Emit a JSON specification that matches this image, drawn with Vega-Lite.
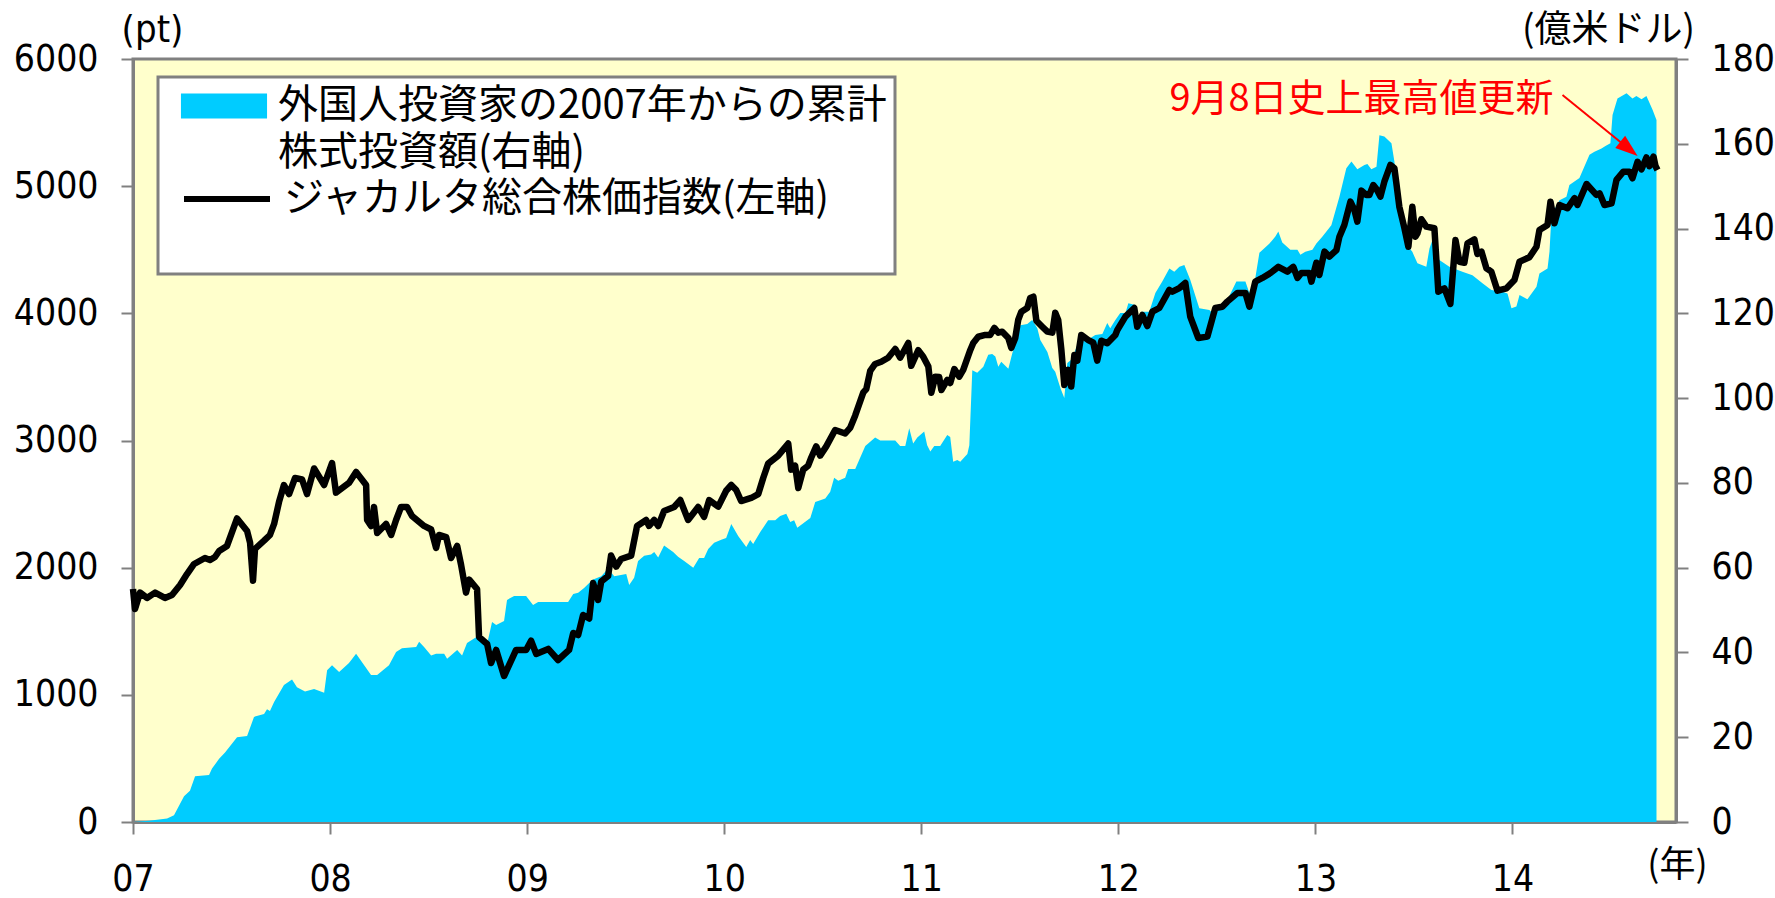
{
  "$schema": "https://vega.github.io/schema/vega-lite/v6.json",
  "width": 1543,
  "height": 763,
  "autosize": {"type": "none"},
  "padding": {"left": 133, "top": 59, "right": 99, "bottom": 76},
  "background": "white",
  "config": {
    "font": "Noto Sans CJK JP",
    "view": {"fill": "#FFFFCC", "stroke": "#808080", "strokeWidth": 3},
    "axis": {
      "labelFont": "DejaVu Sans Condensed, Liberation Sans Narrow, DejaVu Sans",
      "labelFontSize": 37,
      "labelColor": "black",
      "tickColor": "#808080",
      "tickWidth": 2,
      "tickSize": 12,
      "grid": false,
      "domain": true,
      "domainColor": "#808080",
      "domainWidth": 3,
      "labelFlush": false,
      "labelOverlap": false,
      "titleColor": "black",
      "titleFontWeight": "normal",
      "titleAngle": 0,
      "titleAlign": "center",
      "titleBaseline": "middle",
      "zindex": 1
    }
  },
  "datasets": {
    "jci": [
      {"year": 2007.000, "v": 1832}, {"year": 2007.010, "v": 1675}, {"year": 2007.036, "v": 1804}, {"year": 2007.071, "v": 1762},
      {"year": 2007.112, "v": 1804}, {"year": 2007.162, "v": 1762}, {"year": 2007.198, "v": 1785}, {"year": 2007.239, "v": 1864},
      {"year": 2007.274, "v": 1950}, {"year": 2007.310, "v": 2029}, {"year": 2007.365, "v": 2076}, {"year": 2007.391, "v": 2060},
      {"year": 2007.416, "v": 2084}, {"year": 2007.437, "v": 2131}, {"year": 2007.477, "v": 2171}, {"year": 2007.528, "v": 2387},
      {"year": 2007.579, "v": 2288}, {"year": 2007.594, "v": 2197}, {"year": 2007.609, "v": 1898}, {"year": 2007.619, "v": 2147},
      {"year": 2007.665, "v": 2212}, {"year": 2007.695, "v": 2257}, {"year": 2007.716, "v": 2344}, {"year": 2007.741, "v": 2517},
      {"year": 2007.766, "v": 2650}, {"year": 2007.792, "v": 2579}, {"year": 2007.822, "v": 2705}, {"year": 2007.858, "v": 2693},
      {"year": 2007.883, "v": 2579}, {"year": 2007.919, "v": 2780}, {"year": 2007.970, "v": 2650}, {"year": 2008.010, "v": 2823},
      {"year": 2008.030, "v": 2590}, {"year": 2008.096, "v": 2666}, {"year": 2008.132, "v": 2752}, {"year": 2008.183, "v": 2650},
      {"year": 2008.188, "v": 2375}, {"year": 2008.208, "v": 2328}, {"year": 2008.223, "v": 2477}, {"year": 2008.239, "v": 2273},
      {"year": 2008.284, "v": 2344}, {"year": 2008.310, "v": 2257}, {"year": 2008.335, "v": 2375}, {"year": 2008.360, "v": 2477},
      {"year": 2008.391, "v": 2477}, {"year": 2008.416, "v": 2406}, {"year": 2008.477, "v": 2328}, {"year": 2008.513, "v": 2300},
      {"year": 2008.538, "v": 2155}, {"year": 2008.553, "v": 2257}, {"year": 2008.589, "v": 2241}, {"year": 2008.614, "v": 2076},
      {"year": 2008.645, "v": 2171}, {"year": 2008.665, "v": 2021}, {"year": 2008.690, "v": 1804}, {"year": 2008.706, "v": 1906},
      {"year": 2008.746, "v": 1832}, {"year": 2008.756, "v": 1455}, {"year": 2008.797, "v": 1400}, {"year": 2008.817, "v": 1250},
      {"year": 2008.843, "v": 1353}, {"year": 2008.883, "v": 1148}, {"year": 2008.909, "v": 1235}, {"year": 2008.944, "v": 1353},
      {"year": 2008.995, "v": 1353}, {"year": 2009.020, "v": 1426}, {"year": 2009.046, "v": 1322}, {"year": 2009.107, "v": 1361},
      {"year": 2009.157, "v": 1274}, {"year": 2009.213, "v": 1353}, {"year": 2009.234, "v": 1486}, {"year": 2009.259, "v": 1470},
      {"year": 2009.284, "v": 1628}, {"year": 2009.315, "v": 1600}, {"year": 2009.335, "v": 1879}, {"year": 2009.360, "v": 1746},
      {"year": 2009.376, "v": 1891}, {"year": 2009.411, "v": 1935}, {"year": 2009.426, "v": 2095}, {"year": 2009.452, "v": 2008},
      {"year": 2009.477, "v": 2068}, {"year": 2009.528, "v": 2095}, {"year": 2009.558, "v": 2328}, {"year": 2009.604, "v": 2375},
      {"year": 2009.619, "v": 2328}, {"year": 2009.645, "v": 2375}, {"year": 2009.665, "v": 2328}, {"year": 2009.695, "v": 2446},
      {"year": 2009.746, "v": 2477}, {"year": 2009.777, "v": 2532}, {"year": 2009.817, "v": 2375}, {"year": 2009.868, "v": 2477},
      {"year": 2009.898, "v": 2399}, {"year": 2009.924, "v": 2532}, {"year": 2009.970, "v": 2480}, {"year": 2010.010, "v": 2605},
      {"year": 2010.036, "v": 2650}, {"year": 2010.061, "v": 2611}, {"year": 2010.086, "v": 2524}, {"year": 2010.137, "v": 2548},
      {"year": 2010.173, "v": 2579}, {"year": 2010.198, "v": 2705}, {"year": 2010.223, "v": 2818}, {"year": 2010.274, "v": 2881},
      {"year": 2010.325, "v": 2976}, {"year": 2010.340, "v": 2771}, {"year": 2010.360, "v": 2802}, {"year": 2010.376, "v": 2627},
      {"year": 2010.401, "v": 2771}, {"year": 2010.426, "v": 2802}, {"year": 2010.442, "v": 2866}, {"year": 2010.467, "v": 2954},
      {"year": 2010.487, "v": 2881}, {"year": 2010.518, "v": 2954}, {"year": 2010.563, "v": 3083}, {"year": 2010.614, "v": 3055},
      {"year": 2010.640, "v": 3102}, {"year": 2010.665, "v": 3197}, {"year": 2010.706, "v": 3378}, {"year": 2010.721, "v": 3404},
      {"year": 2010.741, "v": 3547}, {"year": 2010.766, "v": 3602}, {"year": 2010.797, "v": 3619}, {"year": 2010.832, "v": 3651},
      {"year": 2010.868, "v": 3720}, {"year": 2010.893, "v": 3651}, {"year": 2010.934, "v": 3767}, {"year": 2010.949, "v": 3587},
      {"year": 2010.985, "v": 3710}, {"year": 2011.010, "v": 3659}, {"year": 2011.036, "v": 3581}, {"year": 2011.051, "v": 3376},
      {"year": 2011.071, "v": 3502}, {"year": 2011.091, "v": 3499}, {"year": 2011.102, "v": 3397}, {"year": 2011.132, "v": 3476},
      {"year": 2011.147, "v": 3452}, {"year": 2011.168, "v": 3562}, {"year": 2011.193, "v": 3502}, {"year": 2011.213, "v": 3555},
      {"year": 2011.249, "v": 3712}, {"year": 2011.264, "v": 3767}, {"year": 2011.289, "v": 3816}, {"year": 2011.325, "v": 3830},
      {"year": 2011.350, "v": 3830}, {"year": 2011.371, "v": 3885}, {"year": 2011.391, "v": 3848}, {"year": 2011.411, "v": 3856},
      {"year": 2011.442, "v": 3806}, {"year": 2011.457, "v": 3728}, {"year": 2011.477, "v": 3806}, {"year": 2011.492, "v": 3948},
      {"year": 2011.508, "v": 4013}, {"year": 2011.538, "v": 4042}, {"year": 2011.553, "v": 4121}, {"year": 2011.569, "v": 4131},
      {"year": 2011.584, "v": 3942}, {"year": 2011.614, "v": 3895}, {"year": 2011.640, "v": 3856}, {"year": 2011.665, "v": 3848},
      {"year": 2011.680, "v": 4005}, {"year": 2011.695, "v": 3948}, {"year": 2011.711, "v": 3712}, {"year": 2011.726, "v": 3437},
      {"year": 2011.746, "v": 3555}, {"year": 2011.761, "v": 3424}, {"year": 2011.777, "v": 3672}, {"year": 2011.792, "v": 3628},
      {"year": 2011.812, "v": 3830}, {"year": 2011.848, "v": 3790}, {"year": 2011.873, "v": 3769}, {"year": 2011.893, "v": 3628},
      {"year": 2011.914, "v": 3785}, {"year": 2011.944, "v": 3765}, {"year": 2011.985, "v": 3830}, {"year": 2011.995, "v": 3869},
      {"year": 2012.036, "v": 3974}, {"year": 2012.081, "v": 4042}, {"year": 2012.096, "v": 3895}, {"year": 2012.122, "v": 3987},
      {"year": 2012.147, "v": 3900}, {"year": 2012.173, "v": 4013}, {"year": 2012.208, "v": 4042}, {"year": 2012.259, "v": 4184},
      {"year": 2012.274, "v": 4170}, {"year": 2012.310, "v": 4199}, {"year": 2012.340, "v": 4239}, {"year": 2012.365, "v": 3974},
      {"year": 2012.406, "v": 3806}, {"year": 2012.452, "v": 3817}, {"year": 2012.492, "v": 4042}, {"year": 2012.528, "v": 4052},
      {"year": 2012.553, "v": 4092}, {"year": 2012.604, "v": 4160}, {"year": 2012.645, "v": 4160}, {"year": 2012.665, "v": 4052},
      {"year": 2012.695, "v": 4249}, {"year": 2012.731, "v": 4278}, {"year": 2012.772, "v": 4317}, {"year": 2012.812, "v": 4365},
      {"year": 2012.858, "v": 4328}, {"year": 2012.888, "v": 4365}, {"year": 2012.909, "v": 4278}, {"year": 2012.929, "v": 4317},
      {"year": 2012.970, "v": 4317}, {"year": 2012.980, "v": 4249}, {"year": 2013.005, "v": 4398}, {"year": 2013.020, "v": 4301},
      {"year": 2013.046, "v": 4485}, {"year": 2013.071, "v": 4446}, {"year": 2013.107, "v": 4498}, {"year": 2013.122, "v": 4603},
      {"year": 2013.147, "v": 4695}, {"year": 2013.178, "v": 4878}, {"year": 2013.198, "v": 4813}, {"year": 2013.213, "v": 4721},
      {"year": 2013.234, "v": 4965}, {"year": 2013.259, "v": 4931}, {"year": 2013.274, "v": 4931}, {"year": 2013.294, "v": 5009},
      {"year": 2013.310, "v": 4978}, {"year": 2013.330, "v": 4918}, {"year": 2013.350, "v": 5035}, {"year": 2013.381, "v": 5167},
      {"year": 2013.401, "v": 5141}, {"year": 2013.411, "v": 5023}, {"year": 2013.426, "v": 4839}, {"year": 2013.452, "v": 4669},
      {"year": 2013.472, "v": 4524}, {"year": 2013.492, "v": 4839}, {"year": 2013.508, "v": 4603}, {"year": 2013.518, "v": 4629},
      {"year": 2013.538, "v": 4740}, {"year": 2013.563, "v": 4682}, {"year": 2013.604, "v": 4669}, {"year": 2013.624, "v": 4170},
      {"year": 2013.655, "v": 4197}, {"year": 2013.685, "v": 4074}, {"year": 2013.711, "v": 4577}, {"year": 2013.731, "v": 4406},
      {"year": 2013.756, "v": 4398}, {"year": 2013.772, "v": 4551}, {"year": 2013.807, "v": 4582}, {"year": 2013.822, "v": 4467},
      {"year": 2013.843, "v": 4485}, {"year": 2013.868, "v": 4354}, {"year": 2013.893, "v": 4328}, {"year": 2013.924, "v": 4178},
      {"year": 2013.970, "v": 4197}, {"year": 2014.010, "v": 4262}, {"year": 2014.036, "v": 4406}, {"year": 2014.086, "v": 4441},
      {"year": 2014.122, "v": 4524}, {"year": 2014.137, "v": 4655}, {"year": 2014.178, "v": 4695}, {"year": 2014.193, "v": 4878},
      {"year": 2014.213, "v": 4708}, {"year": 2014.239, "v": 4852}, {"year": 2014.279, "v": 4826}, {"year": 2014.315, "v": 4905},
      {"year": 2014.330, "v": 4852}, {"year": 2014.376, "v": 5017}, {"year": 2014.426, "v": 4931}, {"year": 2014.442, "v": 4944},
      {"year": 2014.467, "v": 4852}, {"year": 2014.503, "v": 4865}, {"year": 2014.528, "v": 5049}, {"year": 2014.563, "v": 5114},
      {"year": 2014.594, "v": 5114}, {"year": 2014.609, "v": 5062}, {"year": 2014.635, "v": 5192}, {"year": 2014.655, "v": 5132},
      {"year": 2014.680, "v": 5226}, {"year": 2014.695, "v": 5158}, {"year": 2014.716, "v": 5232}, {"year": 2014.726, "v": 5158},
      {"year": 2014.736, "v": 5127}
    ],
    "flow": [
      {"year": 2007.000, "v": 0}, {"year": 2007.081, "v": 0.3}, {"year": 2007.173, "v": 0.8}, {"year": 2007.208, "v": 1.6},
      {"year": 2007.259, "v": 6.1}, {"year": 2007.289, "v": 7.4}, {"year": 2007.315, "v": 10.8}, {"year": 2007.386, "v": 11.1},
      {"year": 2007.401, "v": 12.6}, {"year": 2007.437, "v": 14.9}, {"year": 2007.467, "v": 16.4}, {"year": 2007.528, "v": 20},
      {"year": 2007.579, "v": 20.3}, {"year": 2007.614, "v": 24.8}, {"year": 2007.665, "v": 25.5}, {"year": 2007.680, "v": 26.6},
      {"year": 2007.695, "v": 26.2}, {"year": 2007.716, "v": 28.3}, {"year": 2007.766, "v": 32.3}, {"year": 2007.807, "v": 33.6},
      {"year": 2007.832, "v": 31.8}, {"year": 2007.873, "v": 30.8}, {"year": 2007.919, "v": 31.4}, {"year": 2007.970, "v": 30.5},
      {"year": 2007.985, "v": 35.8}, {"year": 2008.010, "v": 37}, {"year": 2008.046, "v": 35.4}, {"year": 2008.096, "v": 37.5},
      {"year": 2008.132, "v": 39.7}, {"year": 2008.208, "v": 34.7}, {"year": 2008.239, "v": 34.7}, {"year": 2008.299, "v": 37},
      {"year": 2008.335, "v": 40.1}, {"year": 2008.365, "v": 41}, {"year": 2008.437, "v": 41.3}, {"year": 2008.452, "v": 42.5},
      {"year": 2008.477, "v": 41.3}, {"year": 2008.513, "v": 39.3}, {"year": 2008.538, "v": 39.7}, {"year": 2008.579, "v": 39.7},
      {"year": 2008.594, "v": 38.5}, {"year": 2008.645, "v": 40.6}, {"year": 2008.670, "v": 39.3}, {"year": 2008.695, "v": 42.2},
      {"year": 2008.741, "v": 43.6}, {"year": 2008.766, "v": 43}, {"year": 2008.797, "v": 42}, {"year": 2008.822, "v": 47.2},
      {"year": 2008.843, "v": 46.5}, {"year": 2008.883, "v": 47.4}, {"year": 2008.898, "v": 52.4}, {"year": 2008.934, "v": 53.3},
      {"year": 2008.995, "v": 53.3}, {"year": 2009.030, "v": 51.2}, {"year": 2009.056, "v": 51.9}, {"year": 2009.208, "v": 51.9},
      {"year": 2009.234, "v": 53.8}, {"year": 2009.259, "v": 54.1}, {"year": 2009.289, "v": 55.2}, {"year": 2009.315, "v": 56.4},
      {"year": 2009.335, "v": 57.2}, {"year": 2009.376, "v": 58}, {"year": 2009.411, "v": 59.8}, {"year": 2009.442, "v": 58},
      {"year": 2009.503, "v": 58.5}, {"year": 2009.518, "v": 55.9}, {"year": 2009.543, "v": 57.6}, {"year": 2009.563, "v": 61.6},
      {"year": 2009.594, "v": 62.8}, {"year": 2009.629, "v": 63.1}, {"year": 2009.645, "v": 63.7}, {"year": 2009.665, "v": 62.4},
      {"year": 2009.695, "v": 65.2}, {"year": 2009.741, "v": 63.7}, {"year": 2009.766, "v": 62.6}, {"year": 2009.797, "v": 61.6},
      {"year": 2009.843, "v": 60}, {"year": 2009.873, "v": 62.3}, {"year": 2009.898, "v": 62.3}, {"year": 2009.919, "v": 64.4},
      {"year": 2009.949, "v": 65.9}, {"year": 2009.985, "v": 66.6}, {"year": 2010.010, "v": 67}, {"year": 2010.036, "v": 70.3},
      {"year": 2010.071, "v": 67.5}, {"year": 2010.112, "v": 64.9}, {"year": 2010.132, "v": 66.5}, {"year": 2010.147, "v": 65.6},
      {"year": 2010.183, "v": 68.4}, {"year": 2010.223, "v": 71.2}, {"year": 2010.259, "v": 71.2}, {"year": 2010.284, "v": 72.2},
      {"year": 2010.315, "v": 72.7}, {"year": 2010.335, "v": 70.8}, {"year": 2010.355, "v": 71.2}, {"year": 2010.371, "v": 69.4},
      {"year": 2010.437, "v": 71.7}, {"year": 2010.462, "v": 75.5}, {"year": 2010.513, "v": 76.3}, {"year": 2010.538, "v": 77.9},
      {"year": 2010.558, "v": 81.2}, {"year": 2010.579, "v": 80.5}, {"year": 2010.614, "v": 81.2}, {"year": 2010.629, "v": 83.3},
      {"year": 2010.665, "v": 83.3}, {"year": 2010.716, "v": 88.7}, {"year": 2010.766, "v": 90.7}, {"year": 2010.792, "v": 90},
      {"year": 2010.868, "v": 90}, {"year": 2010.893, "v": 88.7}, {"year": 2010.919, "v": 88.7}, {"year": 2010.939, "v": 92.9},
      {"year": 2010.959, "v": 89.3}, {"year": 2010.980, "v": 90.7}, {"year": 2011.015, "v": 92.1}, {"year": 2011.030, "v": 88.9},
      {"year": 2011.046, "v": 87.4}, {"year": 2011.066, "v": 88.7}, {"year": 2011.096, "v": 88.7}, {"year": 2011.132, "v": 91.3},
      {"year": 2011.147, "v": 90.8}, {"year": 2011.162, "v": 85}, {"year": 2011.183, "v": 85.4}, {"year": 2011.198, "v": 85},
      {"year": 2011.234, "v": 86.8}, {"year": 2011.244, "v": 88.9}, {"year": 2011.259, "v": 106.6}, {"year": 2011.284, "v": 106},
      {"year": 2011.315, "v": 107.4}, {"year": 2011.340, "v": 110.2}, {"year": 2011.360, "v": 110.4}, {"year": 2011.376, "v": 109.8},
      {"year": 2011.391, "v": 107.4}, {"year": 2011.406, "v": 108.6}, {"year": 2011.442, "v": 106.9}, {"year": 2011.462, "v": 110.6},
      {"year": 2011.487, "v": 114.5}, {"year": 2011.503, "v": 117.2}, {"year": 2011.538, "v": 117.5}, {"year": 2011.563, "v": 118.4},
      {"year": 2011.589, "v": 116.5}, {"year": 2011.604, "v": 113.7}, {"year": 2011.640, "v": 110.9}, {"year": 2011.665, "v": 107.1},
      {"year": 2011.680, "v": 106.2}, {"year": 2011.706, "v": 102.4}, {"year": 2011.726, "v": 100}, {"year": 2011.741, "v": 108.3},
      {"year": 2011.766, "v": 109.2}, {"year": 2011.797, "v": 113.3}, {"year": 2011.843, "v": 113.7}, {"year": 2011.883, "v": 114.9},
      {"year": 2011.919, "v": 115.1}, {"year": 2011.944, "v": 117.7}, {"year": 2011.959, "v": 116.5}, {"year": 2011.985, "v": 118.4},
      {"year": 2012.010, "v": 120.1}, {"year": 2012.036, "v": 120.1}, {"year": 2012.051, "v": 122.4}, {"year": 2012.081, "v": 122},
      {"year": 2012.096, "v": 118.4}, {"year": 2012.122, "v": 120.4}, {"year": 2012.157, "v": 120.4}, {"year": 2012.188, "v": 124.8},
      {"year": 2012.223, "v": 127.5}, {"year": 2012.259, "v": 130.6}, {"year": 2012.284, "v": 129.8}, {"year": 2012.310, "v": 131},
      {"year": 2012.335, "v": 131.4}, {"year": 2012.365, "v": 127.9}, {"year": 2012.411, "v": 121.2}, {"year": 2012.462, "v": 120.8},
      {"year": 2012.477, "v": 120.1}, {"year": 2012.513, "v": 122}, {"year": 2012.553, "v": 123.1}, {"year": 2012.599, "v": 127.5},
      {"year": 2012.645, "v": 127.5}, {"year": 2012.665, "v": 124.8}, {"year": 2012.695, "v": 128.3}, {"year": 2012.716, "v": 134.3},
      {"year": 2012.766, "v": 136.4}, {"year": 2012.797, "v": 138.1}, {"year": 2012.812, "v": 139.3}, {"year": 2012.832, "v": 136.7},
      {"year": 2012.873, "v": 135}, {"year": 2012.909, "v": 135}, {"year": 2012.924, "v": 133.8}, {"year": 2012.949, "v": 134.5},
      {"year": 2012.985, "v": 135}, {"year": 2013.005, "v": 136.5}, {"year": 2013.036, "v": 138.1}, {"year": 2013.081, "v": 140.8},
      {"year": 2013.122, "v": 147.5}, {"year": 2013.157, "v": 154.2}, {"year": 2013.183, "v": 155.8}, {"year": 2013.213, "v": 154},
      {"year": 2013.249, "v": 155}, {"year": 2013.264, "v": 155.2}, {"year": 2013.284, "v": 154}, {"year": 2013.310, "v": 154.6},
      {"year": 2013.325, "v": 162}, {"year": 2013.350, "v": 161.7}, {"year": 2013.386, "v": 160.1}, {"year": 2013.401, "v": 155.8},
      {"year": 2013.416, "v": 149.5}, {"year": 2013.442, "v": 143.6}, {"year": 2013.472, "v": 135.7}, {"year": 2013.492, "v": 134.5},
      {"year": 2013.518, "v": 131.8}, {"year": 2013.563, "v": 131}, {"year": 2013.579, "v": 135.3}, {"year": 2013.594, "v": 137.3},
      {"year": 2013.629, "v": 132.6}, {"year": 2013.680, "v": 131}, {"year": 2013.746, "v": 129.8}, {"year": 2013.797, "v": 129},
      {"year": 2013.848, "v": 127.1}, {"year": 2013.893, "v": 125.5}, {"year": 2013.949, "v": 125.1}, {"year": 2013.975, "v": 124.7},
      {"year": 2013.995, "v": 121.2}, {"year": 2014.020, "v": 121.6}, {"year": 2014.036, "v": 124.3}, {"year": 2014.076, "v": 123.3},
      {"year": 2014.122, "v": 126.3}, {"year": 2014.137, "v": 129.4}, {"year": 2014.178, "v": 130.6}, {"year": 2014.188, "v": 134.5},
      {"year": 2014.198, "v": 143.2}, {"year": 2014.239, "v": 146.7}, {"year": 2014.274, "v": 147.5}, {"year": 2014.289, "v": 150.3},
      {"year": 2014.340, "v": 151.9}, {"year": 2014.391, "v": 157.4}, {"year": 2014.416, "v": 158.1}, {"year": 2014.452, "v": 158.9},
      {"year": 2014.472, "v": 159.5}, {"year": 2014.497, "v": 160.1}, {"year": 2014.508, "v": 166.8}, {"year": 2014.533, "v": 170.7},
      {"year": 2014.579, "v": 171.9}, {"year": 2014.609, "v": 170.7}, {"year": 2014.629, "v": 171.3}, {"year": 2014.655, "v": 170.5},
      {"year": 2014.680, "v": 171.3}, {"year": 2014.711, "v": 168}, {"year": 2014.731, "v": 165.6}
    ]
  },
  "layer": [
    {
      "data": {"name": "flow"},
      "mark": {"type": "area", "interpolate": "linear"},
      "encoding": {
        "x": {
          "field": "year", "type": "quantitative",
          "scale": {"domain": [2007, 2014.83], "nice": false, "zero": false},
          "axis": {
            "values": [2007, 2008, 2009, 2010, 2011, 2012, 2013, 2014],
            "labelExpr": "substring(toString(datum.value), 2, 4)",
            "labelPadding": 27,
            "title": "(年)",
            "titleFont": "Noto Sans CJK JP",
            "titleFontSize": 36,
            "titleX": 1544,
            "titleY": 43
          }
        },
        "y": {
          "field": "v", "type": "quantitative",
          "scale": {"domain": [0, 180], "nice": false},
          "axis": {
            "orient": "right",
            "values": [0, 20, 40, 60, 80, 100, 120, 140, 160, 180],
            "format": "d",
            "labelPadding": 23,
            "title": "(億米ドル)",
            "titleFont": "Noto Sans CJK JP",
            "titleFontSize": 37,
            "titleX": -68,
            "titleY": -29
          }
        },
        "fill": {
          "datum": "外国人投資家の2007年からの累計株式投資額(右軸)",
          "scale": {"range": ["#00CCFF"]},
          "legend": {
            "orient": "none",
            "legendX": 25,
            "legendY": 18,
            "title": " ",
            "titleOrient": "bottom",
            "titleFontSize": 66,
            "titlePadding": 28,
            "fillColor": "white",
            "strokeColor": "#808080",
            "padding": 8,
            "symbolOffset": 37,
            "symbolType": "M-2.05,-0.6H2.05V0.6H-2.05Z",
            "symbolSize": 1764,
            "symbolStrokeWidth": 0,
            "labelExpr": "['外国人投資家の2007年からの累計', '株式投資額(右軸)']",
            "labelFont": "Noto Sans CJK JP",
            "labelFontSize": 40,
            "labelColor": "black",
            "labelOffset": 33,
            "labelLimit": 2000,
            "encode": {
              "labels": {"update": {"lineHeight": {"value": 47}}},
              "legend": {"update": {"strokeWidth": {"value": 3}}}
            }
          }
        }
      }
    },
    {
      "layer": [
        {
          "data": {"name": "jci"},
          "mark": {"type": "line", "strokeWidth": 6.5, "strokeJoin": "round"},
          "encoding": {
            "x": {"field": "year", "type": "quantitative"},
            "y": {
              "field": "v", "type": "quantitative",
              "scale": {"domain": [0, 6000], "nice": false},
              "axis": {
                "orient": "left",
                "values": [0, 1000, 2000, 3000, 4000, 5000, 6000],
                "format": "d",
                "labelPadding": 23,
                "title": "(pt)",
                "titleFont": "DejaVu Sans Condensed, Liberation Sans Narrow, DejaVu Sans",
                "titleFontSize": 38,
                "titleX": 19,
                "titleY": -29
              }
            },
            "stroke": {
              "datum": "ジャカルタ総合株価指数(左軸)",
              "scale": {"range": ["black"]},
              "legend": {
                "orient": "none",
                "legendX": 48,
                "legendY": 94,
                "title": null,
                "padding": 0,
                "symbolType": "stroke",
                "symbolSize": 7396,
                "symbolStrokeWidth": 6,
                "labelFont": "Noto Sans CJK JP",
                "labelFontSize": 40,
                "labelColor": "black",
                "labelOffset": 11,
                "labelLimit": 2000
              }
            }
          }
        },
        {
          "data": {"values": [{}]},
          "mark": {"type": "text", "color": "#FF0000", "font": "Noto Sans CJK JP", "fontSize": 38, "align": "center", "baseline": "middle"},
          "encoding": {
            "x": {"datum": 2013.234, "type": "quantitative"},
            "y": {"datum": 5678, "type": "quantitative"},
            "text": {"value": "9月8日史上最高値更新"}
          }
        },
        {
          "data": {"values": [{}]},
          "mark": {"type": "rule", "color": "#FF0000", "strokeWidth": 2},
          "encoding": {
            "x": {"datum": 2014.254, "type": "quantitative"},
            "y": {"datum": 5717, "type": "quantitative"},
            "x2": {"datum": 2014.554},
            "y2": {"datum": 5340}
          }
        },
        {
          "data": {"values": [{}]},
          "mark": {"type": "point", "shape": "M0,-1L0.7,1L-0.7,1Z", "filled": true, "color": "#FF0000", "opacity": 1, "size": 500, "angle": 129},
          "encoding": {
            "x": {"datum": 2014.591, "type": "quantitative"},
            "y": {"datum": 5293, "type": "quantitative"}
          }
        }
      ]
    }
  ],
  "resolve": {"scale": {"y": "independent"}}
}
